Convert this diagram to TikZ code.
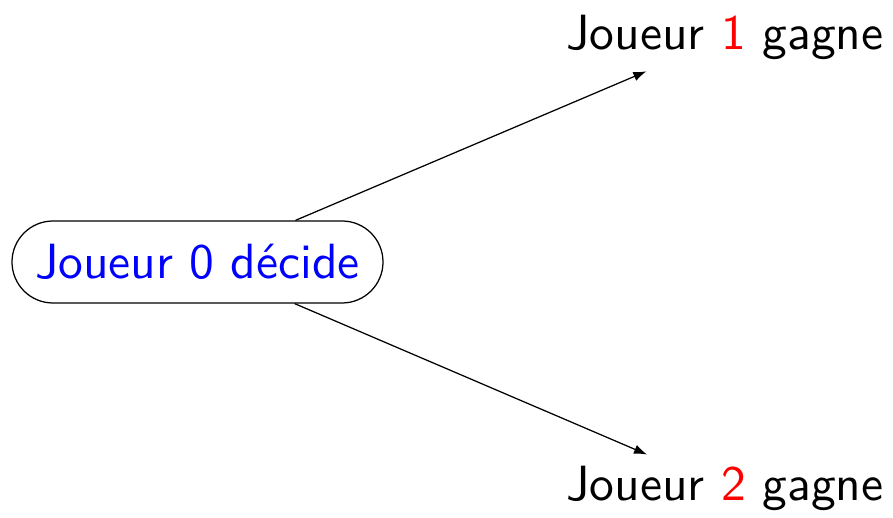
\documentclass[tikz,border=0pt]{standalone}
\usetikzlibrary{shapes.misc,arrows.meta}
\begin{document}
\begin{tikzpicture}[x=0.2pt,y=-0.2pt,line width=0.25pt,
  every node/.style={font=\sffamily\fontsize{9.9}{12}\selectfont},
  decision/.style={draw,rounded rectangle,minimum width=74.2pt,minimum height=16.4pt,inner sep=0pt,text=blue},
  outcome/.style={anchor=base,inner sep=2.1pt},
  link/.style={-{Latex[length=2.6pt,width=1.9pt]}}]
\useasboundingbox (0,0) rectangle (893,518);
\node[decision] (d) at (197.5,262) {Joueur 0 décide};
\node[outcome] (w1) at (725,50) {Joueur \textcolor{red}{1} gagne};
\node[outcome] (w2) at (725,500) {Joueur \textcolor{red}{2} gagne};
\draw[link] (d) -- (w1);
\draw[link] (d) -- (w2);
\end{tikzpicture}
\end{document}
